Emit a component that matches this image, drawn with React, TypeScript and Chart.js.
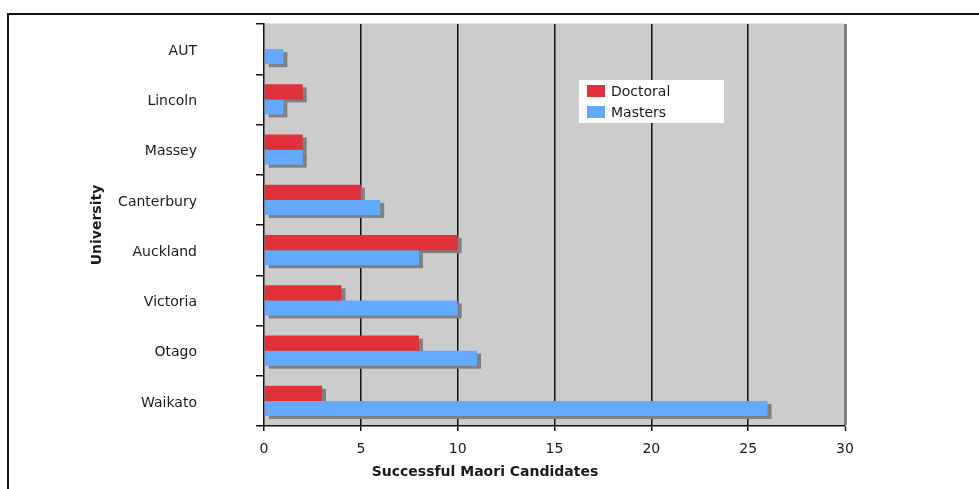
import React, { useEffect, useRef } from "react";
import { Chart, registerables } from "chart.js";

Chart.register(...registerables);

const universities = ["AUT", "Lincoln", "Massey", "Canterbury", "Auckland", "Victoria", "Otago", "Waikato"];
const doctoral = [0, 2, 2, 5, 10, 4, 8, 3];
const masters = [1, 1, 2, 6, 8, 10, 11, 26];
const seriesNames = ["Doctoral", "Masters"];
const seriesColors = ["#E0303A", "#63AAFF"];
const xTitle = "Successful Maori Candidates";
const yTitle = "University";

const FONT = "'DejaVu Sans', Verdana, sans-serif";
const TEXT = "#1a1a1a";

const decorPlugin = {
  id: "decor",
  beforeDraw(chart: any) {
    const { ctx, chartArea: a } = chart;
    ctx.save();
    ctx.fillStyle = "#CCCCCC";
    ctx.fillRect(a.left, a.top, a.right - a.left, a.bottom - a.top);
    ctx.fillStyle = "#e4e4e4";
    ctx.fillRect(a.left, a.top - 1, a.right - a.left, 1);
    // outer frame (top & left)
    ctx.fillStyle = "#111";
    ctx.fillRect(7, 13, chart.width - 7, 2);
    ctx.fillRect(7, 13, 2, chart.height - 13);
    ctx.restore();
  },
  beforeDatasetsDraw(chart: any) {
    const { ctx } = chart;
    ctx.save();
    ctx.fillStyle = "#808080";
    chart.data.datasets.forEach((_: any, di: number) => {
      const meta = chart.getDatasetMeta(di);
      meta.data.forEach((bar: any) => {
        const p = bar.getProps(["x", "y", "base", "height"], true);
        const left = Math.min(p.base, p.x);
        const w = Math.abs(p.x - p.base);
        if (w <= 0) return;
        ctx.fillRect(left + 4, p.y - p.height / 2 + 3, w, p.height);
      });
    });
    ctx.restore();
  },
  afterDraw(chart: any) {
    const { ctx } = chart;
    ctx.save();
    // axis titles
    ctx.fillStyle = TEXT;
    ctx.font = `bold 14px ${FONT}`;
    ctx.textAlign = "center";
    ctx.textBaseline = "middle";
    ctx.fillText(xTitle, 485, 472);
    ctx.translate(97, 225);
    ctx.rotate(-Math.PI / 2);
    ctx.fillText(yTitle, 0, 0);
    ctx.restore();

    // legend
    ctx.save();
    ctx.fillStyle = "#ffffff";
    ctx.fillRect(579, 80, 145, 43);
    ctx.font = `14px ${FONT}`;
    ctx.textAlign = "left";
    ctx.textBaseline = "middle";
    seriesNames.forEach((name, i) => {
      const cy = 91 + i * 21;
      ctx.fillStyle = seriesColors[i];
      ctx.fillRect(587, cy - 6, 18, 12);
      ctx.fillStyle = TEXT;
      ctx.fillText(name, 611, cy + 1);
    });
    ctx.restore();
  },
};

export default function App() {
  const ref = useRef<HTMLCanvasElement | null>(null);
  useEffect(() => {
    if (!ref.current) return;
    const chart = new Chart(ref.current, {
      type: "bar",
      data: {
        labels: universities,
        datasets: [
          { label: seriesNames[0], data: doctoral, backgroundColor: seriesColors[0], borderWidth: 0 },
          { label: seriesNames[1], data: masters, backgroundColor: seriesColors[1], borderWidth: 0 },
        ],
      },
      options: {
        indexAxis: "y",
        animation: false,
        responsive: false,
        maintainAspectRatio: false,
        devicePixelRatio: 1,
        datasets: { bar: { categoryPercentage: 0.6, barPercentage: 1.0 } },
        layout: { padding: { top: 24, right: 134, left: 0, bottom: 0 } },
        plugins: { legend: { display: false }, tooltip: { enabled: false }, title: { display: false } },
        scales: {
          x: {
            type: "linear",
            min: 0,
            max: 30,
            afterFit: (s: any) => { s.height = 63; s.paddingLeft = 0; s.paddingRight = 0; },
            ticks: { stepSize: 5, color: TEXT, font: { family: FONT, size: 14 }, padding: 10 },
            grid: {
              drawOnChartArea: true,
              drawTicks: true,
              tickLength: 5,
              tickColor: "#111",
              tickWidth: 1.5,
              color: (c: any) => (c.tick && c.tick.value === 30 ? "#808080" : c.tick && c.tick.value === 0 ? "rgba(0,0,0,0)" : "#111"),
              lineWidth: (c: any) => (c.tick && c.tick.value === 30 ? 3 : 1.5),
            },
            border: { display: true, color: "#111", width: 1.5 },
          },
          y: {
            type: "category",
            afterFit: (s: any) => { s.width = 264; s.paddingTop = 0; s.paddingBottom = 0; },
            ticks: { color: TEXT, font: { family: FONT, size: 14 }, padding: 59, labelOffset: 2 },
            grid: {
              offset: true,
              drawOnChartArea: false,
              drawTicks: true,
              tickLength: 8,
              color: "#111",
              lineWidth: 1.5,
            },
            border: { display: true, color: "#111", width: 1.5 },
          },
        },
      },
      plugins: [decorPlugin],
    });
    return () => chart.destroy();
  }, []);
  return (
    <div style={{ position: "absolute", left: 0, top: 0, width: 979, height: 489, background: "#fff" }}>
      <canvas ref={ref} width={979} height={489} style={{ display: "block", width: 979, height: 489 }} />
    </div>
  );
}
